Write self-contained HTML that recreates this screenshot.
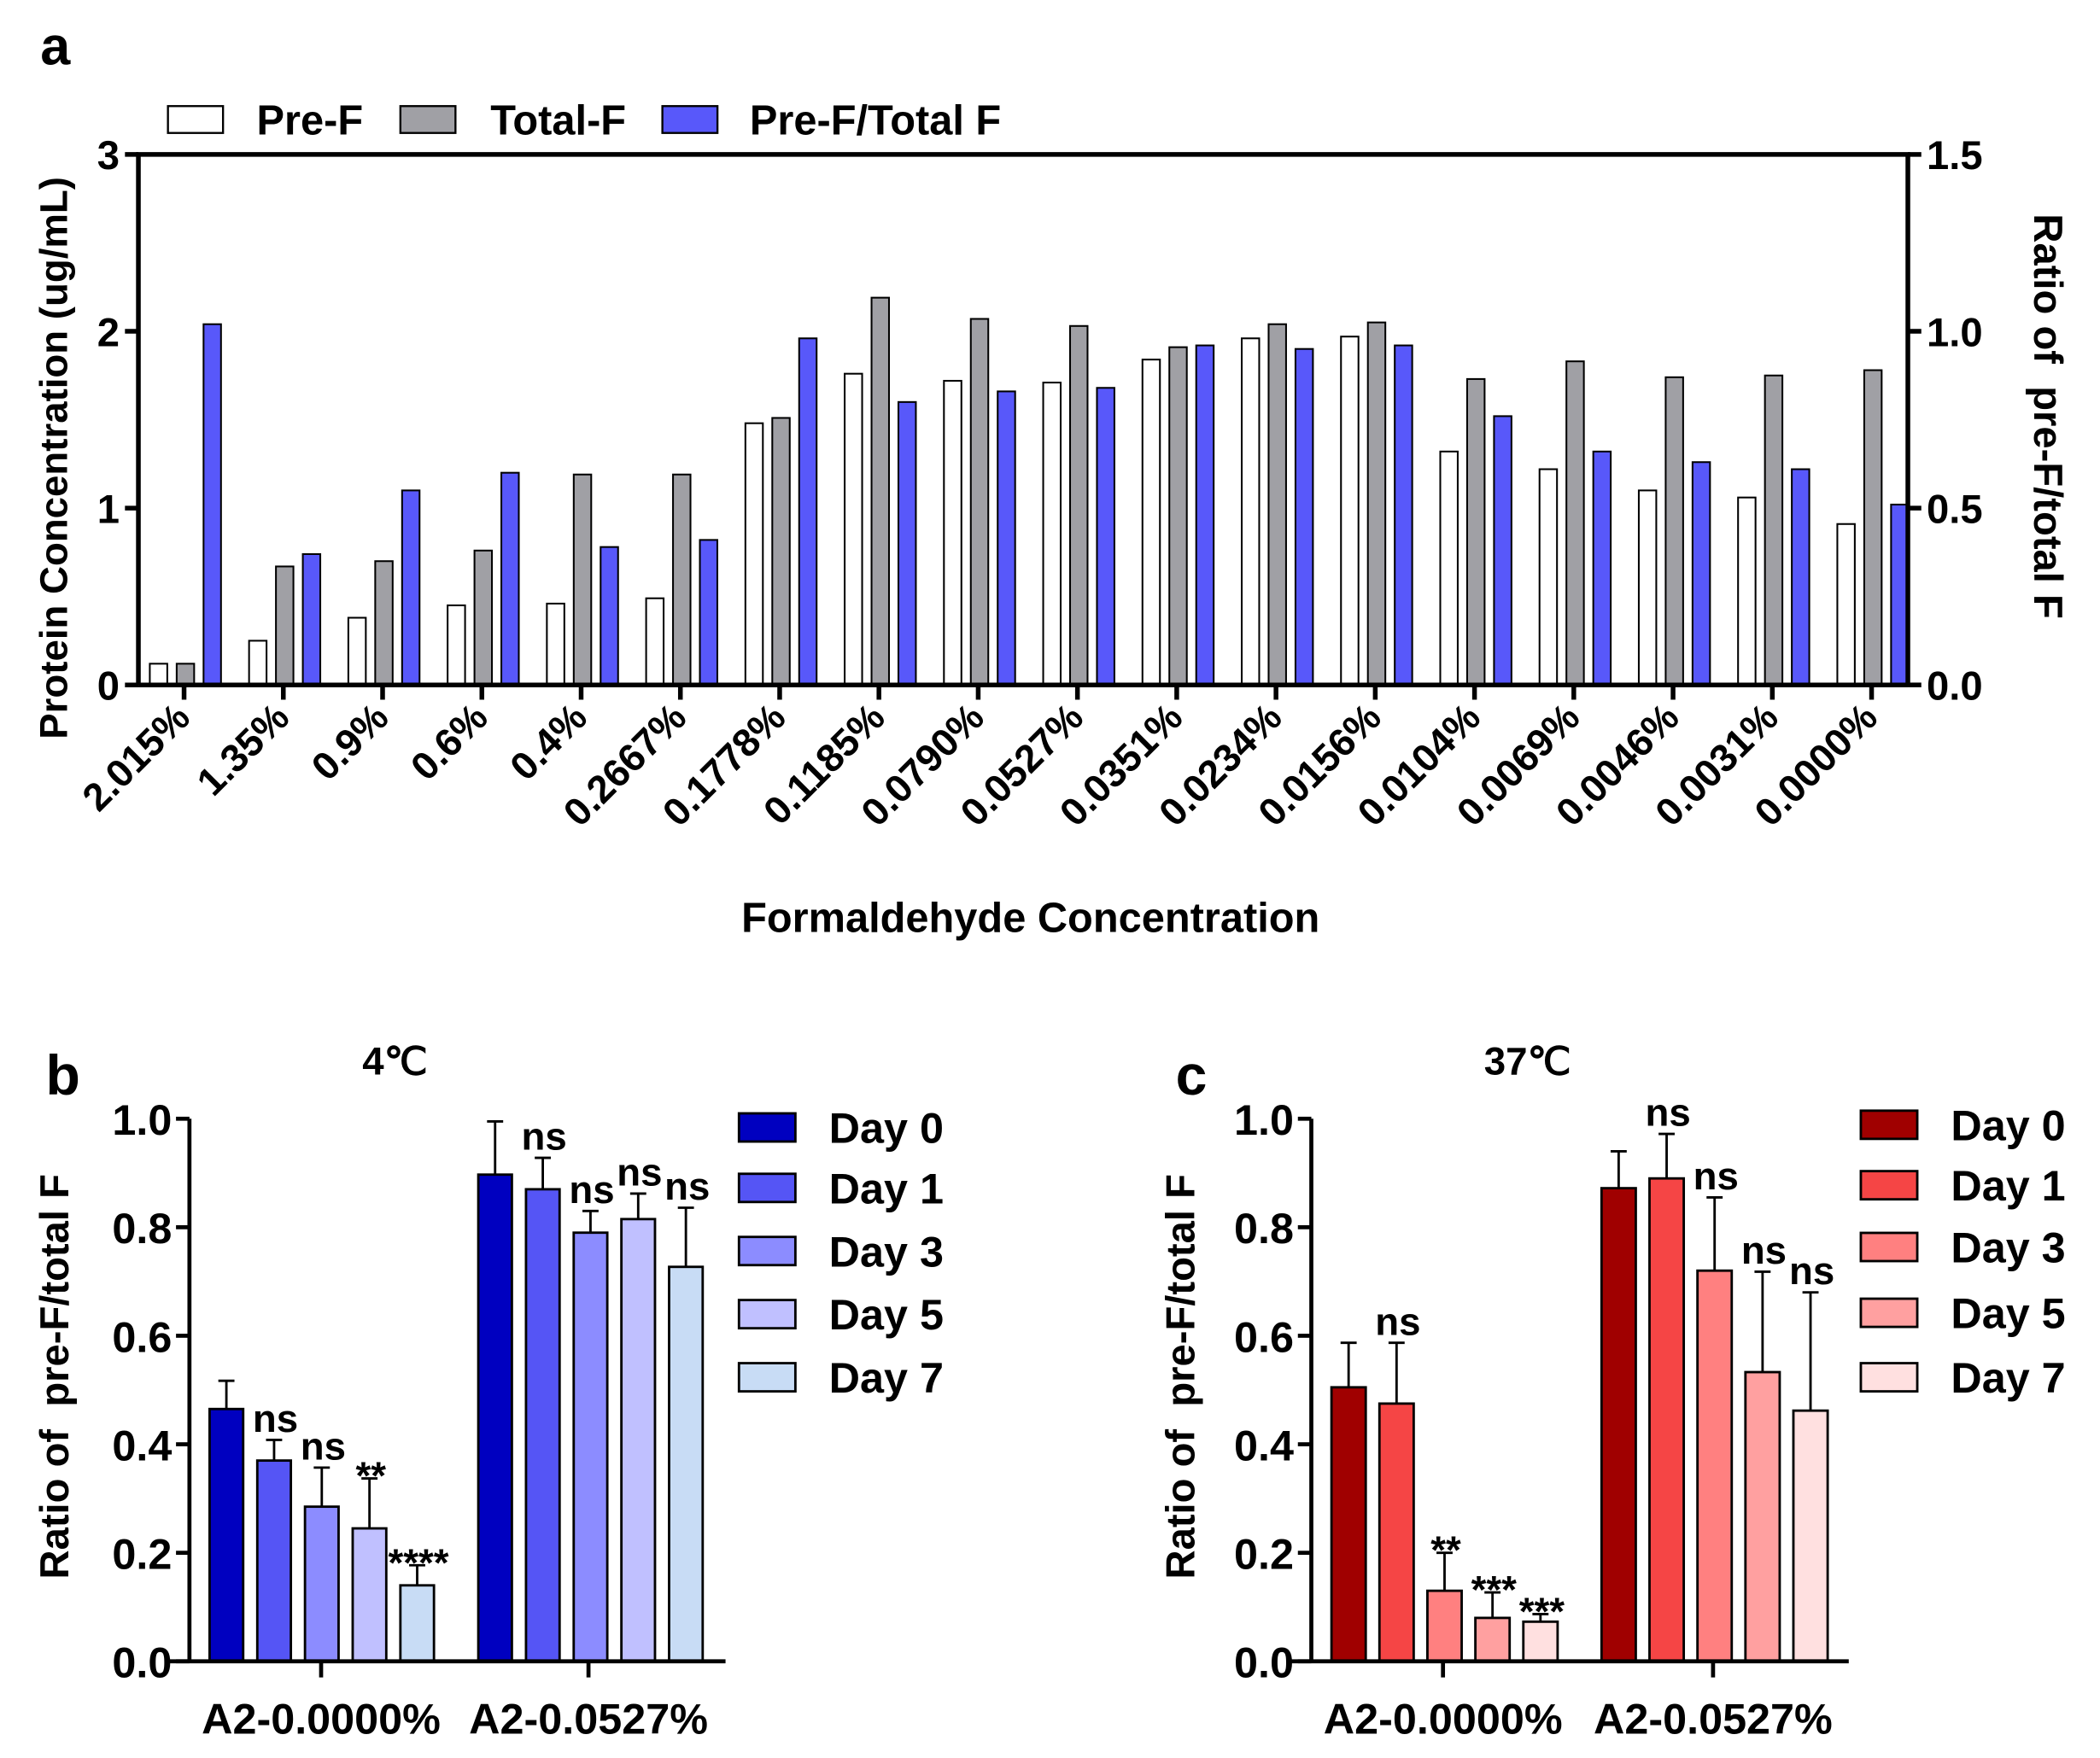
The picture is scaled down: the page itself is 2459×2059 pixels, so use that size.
<!DOCTYPE html>
<html><head><meta charset="utf-8"><style>
html,body{margin:0;padding:0;background:#fff}
svg{display:block}
text{font-family:"Liberation Sans",Arial,sans-serif;font-weight:bold;fill:#000}
</style></head><body>
<svg id="fig" width="2459" height="2059" viewBox="0 0 1563 1309" preserveAspectRatio="none"></svg>
<script>
// ---------- Panel a data ----------
const aCats = ["2.015%","1.35%","0.9%","0.6%","0.4%","0.2667%","0.1778%","0.1185%","0.0790%","0.0527%","0.0351%","0.0234%","0.0156%","0.0104%","0.0069%","0.0046%","0.0031%","0.0000%"];
const aPreF = [0.12,0.25,0.38,0.45,0.46,0.49,1.48,1.76,1.72,1.71,1.84,1.96,1.97,1.32,1.22,1.10,1.06,0.91];
const aTotalF = [0.12,0.67,0.70,0.76,1.19,1.19,1.51,2.19,2.07,2.03,1.91,2.04,2.05,1.73,1.83,1.74,1.75,1.78];
const aRatio = [1.02,0.37,0.55,0.60,0.39,0.41,0.98,0.80,0.83,0.84,0.96,0.95,0.96,0.76,0.66,0.63,0.61,0.51];
const aLeftTicks = [0,1,2,3];
const aRightTicks = ["0.0","0.5","1.0","1.5"];
// ---------- Panel b data ----------
const bcGroups = ["A2-0.0000%","A2-0.0527%"];
const bcDays = ["Day 0","Day 1","Day 3","Day 5","Day 7"];
const bVals = [[0.465,0.37,0.285,0.245,0.14],[0.897,0.870,0.790,0.815,0.727]];
const bErrTop = [[0.517,0.408,0.357,0.337,0.177],[0.995,0.928,0.830,0.862,0.836]];
const bSig = [["","ns","ns","**","****"],["","ns","ns","ns","ns"]];
// ---------- Panel c data ----------
const cVals = [[0.505,0.475,0.13,0.08,0.073],[0.872,0.890,0.720,0.533,0.462]];
const cErrTop = [[0.587,0.587,0.200,0.127,0.087],[0.940,0.972,0.855,0.718,0.680]];
const cSig = [["","ns","**","***","***"],["","ns","ns","ns","ns"]];
const bcTicks = ["0.0","0.2","0.4","0.6","0.8","1.0"];

const NS="http://www.w3.org/2000/svg";
const svg=document.getElementById('fig');
function el(tag,attrs,parent,txt){const e=document.createElementNS(NS,tag);for(const k in attrs)e.setAttribute(k,attrs[k]);if(txt!==undefined)e.textContent=txt;(parent||svg).appendChild(e);return e;}
const YT='Ratio of\u00a0\u00a0pre-F/total F';

// ===== Panel a =====
const A={x0:103,x1:1420,y0:510,y1:115};
const ayL=v=>A.y0-(v/3)*(A.y0-A.y1);
const ayR=v=>A.y0-(v/1.5)*(A.y0-A.y1);
const ax=i=>137+i*(1393-137)/(aCats.length-1);
const gA=el('g',{});


let t=el('text',{x:30,y:48,'font-size':40},gA,'a');

// legend
const aLeg=[["Pre-F","#ffffff",125,191],["Total-F","#a0a0a5",298,365],["Pre-F/Total F","#5858fa",493,558]];
aLeg.forEach(l=>{
  const r=el('rect',{x:l[2],y:79,width:41,height:20,fill:l[1],stroke:'#000','stroke-width':1.5},gA);
  
  const tx=el('text',{x:l[3],y:100,'font-size':31},gA,l[0]);
  
});
// bars
aCats.forEach((c,i)=>{
  const cx=ax(i);
  const r1=el('rect',{x:cx-25.5,y:ayL(aPreF[i]),width:13,height:A.y0-ayL(aPreF[i]),fill:'#fff',stroke:'#000','stroke-width':1.3},gA);
  
  const r2=el('rect',{x:cx-5.5,y:ayL(aTotalF[i]),width:13,height:A.y0-ayL(aTotalF[i]),fill:'#a0a0a5',stroke:'#000','stroke-width':1.3},gA);
  
  const r3=el('rect',{x:cx+14.5,y:ayR(aRatio[i]),width:13,height:A.y0-ayR(aRatio[i]),fill:'#5858fa',stroke:'#000','stroke-width':1.3},gA);
  
  el('line',{x1:cx,x2:cx,y1:A.y0,y2:A.y0+11,stroke:'#000','stroke-width':3.5},gA);
  const lb=el('text',{x:0,y:0,'font-size':29,'text-anchor':'end',transform:`translate(${cx+6},${A.y0+26}) rotate(-45)`},gA,c);
  
});
// axes
const axA=el('path',{d:`M${A.x0},${A.y0}H${A.x1}M${A.x0},${A.y0}V${A.y1}H${A.x1}V${A.y0}`,fill:'none',stroke:'#000','stroke-width':3.5},gA);

aLeftTicks.forEach(v=>{
  el('line',{x1:A.x0-10,x2:A.x0,y1:ayL(v),y2:ayL(v),stroke:'#000','stroke-width':3.5},gA);
  const tx=el('text',{x:A.x0-14,y:ayL(v)+11,'font-size':30,'text-anchor':'end'},gA,String(v));
  
});
aRightTicks.forEach(v=>{
  const y=ayR(parseFloat(v));
  el('line',{x1:A.x1,x2:A.x1+10,y1:y,y2:y,stroke:'#000','stroke-width':3.5},gA);
  const tx=el('text',{x:A.x1+14,y:y+11,'font-size':30},gA,v);
  
});
t=el('text',{x:0,y:0,'font-size':29,'text-anchor':'middle',transform:'translate(50,341) rotate(-90)'},gA,'Protein Concentration (ug/mL)');

t=el('text',{x:0,y:0,'font-size':30,'text-anchor':'middle',transform:'translate(1514,310) rotate(90)'},gA,YT);

t=el('text',{x:767,y:694,'font-size':31,'text-anchor':'middle'},gA,'Formaldehyde Concentration');


// ===== Panels b, c =====
function panel(opt){
  const g=el('g',{});
  
  
  const y0=1237,y1=833;
  const y=v=>y0-v*(y0-y1);
  const bx=(gi,di)=>opt.groupStart[gi]+di*opt.pitch;
  let tt=el('text',{x:opt.letterX,y:815,'font-size':42},g,opt.letter);
  
  tt=el('text',{x:opt.titleX,y:800,'font-size':29,'text-anchor':'middle'},g,opt.title);
  
  bcGroups.forEach((gn,gi)=>{
    bcDays.forEach((d,di)=>{
      const x=bx(gi,di),v=opt.vals[gi][di],e=opt.err[gi][di];
      const cx=x+opt.bw/2;
      el('line',{x1:cx,x2:cx,y1:y(v),y2:y(e),stroke:'#000','stroke-width':1.8},g);
      el('line',{x1:cx-6,x2:cx+6,y1:y(e),y2:y(e),stroke:'#000','stroke-width':1.8},g);
      const r=el('rect',{x:x,y:y(v),width:opt.bw,height:y0-y(v),fill:opt.colors[di],stroke:'#000','stroke-width':1.8},g);
      
      const s=opt.sig[gi][di];
      if(s){const st=el('text',{x:cx+1,y:y(e)-(s[0]==='*'?-8:6),'font-size':s[0]==='*'?29:29,'text-anchor':'middle'},g,s);
        }
    });
    const tk=opt.ticks[gi];
    el('line',{x1:tk,x2:tk,y1:y0,y2:y0+12,stroke:'#000','stroke-width':3},g);
    const gl=el('text',{x:tk,y:1291,'font-size':32,'text-anchor':'middle'},g,gn);
    
  });
  const ax=el('path',{d:`M${opt.xStart},${y0}H${opt.xEnd}M${opt.yAxisX},${y0}V${y1}`,fill:'none',stroke:'#000','stroke-width':3},g);
  
  bcTicks.forEach(v=>{
    const yy=y(parseFloat(v));
    el('line',{x1:opt.yAxisX-10,x2:opt.yAxisX,y1:yy,y2:yy,stroke:'#000','stroke-width':3},g);
    const tx=el('text',{x:opt.yAxisX-13,y:yy+12,'font-size':32,'text-anchor':'end'},g,v);
    
  });
  tt=el('text',{x:0,y:0,'font-size':30,'text-anchor':'middle',transform:`translate(${opt.yTitleX},1025) rotate(-90)`},g,YT);
  
  const legY=opt.legY;
  bcDays.forEach((d,di)=>{
    const r=el('rect',{x:opt.legX,y:legY[di]-10,width:42,height:21,fill:opt.colors[di],stroke:'#000','stroke-width':1.8},g);
    
    const tx=el('text',{x:opt.legX+67,y:legY[di]+12,'font-size':32},g,d);
    
  });
}
panel({name:'panel-b',letter:'b',letterX:34,title:'4℃',titleX:294,
  vals:bVals,err:bErrTop,sig:bSig,
  colors:['#0000c0','#5555f5','#8c8cff','#c0c0ff','#c8dcf5'],
  groupStart:[156,356],pitch:35.5,bw:25,ticks:[239,438],
  xStart:125,xEnd:540,yAxisX:141,yTitleX:51,
  legX:550,legY:[839,884,931,978,1025]});
panel({name:'panel-c',letter:'c',letterX:875,title:'37℃',titleX:1137,
  vals:cVals,err:cErrTop,sig:cSig,
  colors:['#a00000','#f54545','#ff8080','#ffa0a0','#ffe0e0'],
  groupStart:[991,1192],pitch:35.7,bw:25.5,ticks:[1074,1275],
  xStart:960,xEnd:1376,yAxisX:976,yTitleX:889,
  legX:1385,legY:[837,882,928,977,1025]});
</script>
</body></html>
